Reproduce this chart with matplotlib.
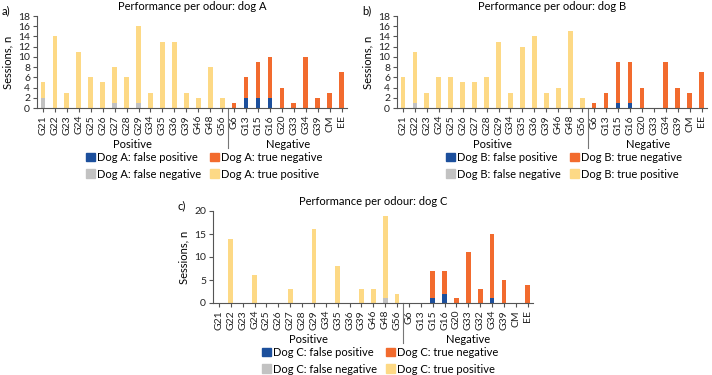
import numpy as np
import matplotlib
matplotlib.use("Agg")
import matplotlib.pyplot as plt
from matplotlib.patches import Patch

plt.rcParams["font.family"] = ["Lato", "DejaVu Sans"]
plt.rcParams["font.size"] = 7.5

W, H = 712, 375
C_FP, C_TN, C_FN, C_TP = "#1c4f9c", "#f26b2e", "#c2c2c2", "#fdd985"
AXC = "#555555"

POS = ["G21", "G22", "G23", "G24", "G25", "G26", "G27", "G28",
       "G29", "G34", "G35", "G36", "G39", "G46", "G48", "G56"]
NEG_AB = ["G6", "G13", "G15", "G16", "G20", "G33", "G34", "G39", "CM", "EE"]
NEG_C = ["G6", "G13", "G15", "G16", "G20", "G33", "G32", "G34", "G39", "CM", "EE"]

# dog A
a_fn = [2, 0, 0, 0, 0, 0, 1, 0, 1, 0, 0, 0, 0, 0, 0, 0]
a_tp = [3, 14, 3, 11, 6, 5, 7, 6, 15, 3, 13, 13, 3, 2, 8, 2]
a_fp = [0, 2, 2, 2, 0, 0, 0, 0, 0, 0]
a_tn = [1, 4, 7, 8, 4, 1, 10, 2, 3, 7]

# dog B
b_fn = [0, 1, 0, 0, 0, 0, 0, 0, 0, 0, 0, 0, 0, 0, 0, 0]
b_tp = [6, 10, 3, 6, 6, 5, 5, 6, 13, 3, 12, 14, 3, 4, 15, 2]
b_fp = [0, 0, 1, 1, 0, 0, 0, 0, 0, 0]
b_tn = [1, 3, 8, 8, 4, 0, 9, 4, 3, 7]

# dog C
c_fn = [0, 0, 0, 0, 0, 0, 0, 0, 0, 0, 0, 0, 0, 0, 1, 0]
c_tp = [0, 14, 0, 6, 0, 0, 3, 0, 16, 0, 8, 0, 3, 3, 18, 2]
c_fp = [0, 0, 1, 2, 0, 0, 0, 1, 0, 0, 0]
c_tn = [0, 0, 6, 5, 1, 11, 3, 14, 5, 0, 4]


def panel(fig, box, dog, letter, neg, fn, tp, fp, tn, ymax, ystep, leg_xy):
    l, r, t, b = box
    ax = fig.add_axes([l / W, 1 - b / H, (r - l) / W, (b - t) / H])
    npos = len(POS)
    labels = POS + neg
    x = np.arange(len(labels))
    bw = 0.4
    xp, xn = x[:npos], x[npos:]
    ax.bar(xp, fn, bw, color=C_FN)
    ax.bar(xp, tp, bw, bottom=fn, color=C_TP)
    ax.bar(xn, fp, bw, color=C_FP)
    ax.bar(xn, tn, bw, bottom=fp, color=C_TN)

    ax.set_xlim(-0.5, len(labels) - 0.55)
    ax.set_ylim(0, ymax)
    ax.set_yticks(np.arange(0, ymax + 1, ystep))
    ax.set_xticks(x)
    ax.set_xticklabels(labels, rotation=90)
    ax.tick_params(axis="both", colors=AXC, labelcolor="#222222", length=3, width=0.8, pad=2,
                   labelsize=7.5)
    for s in ("top", "right"):
        ax.spines[s].set_visible(False)
    for s in ("left", "bottom"):
        ax.spines[s].set_color(AXC)
        ax.spines[s].set_linewidth(0.8)
    ax.set_ylabel("Sessions, n", fontsize=8, labelpad=3)
    ax.set_title(f"Performance per odour: dog {dog}", fontsize=8, pad=4)

    # group separator and labels
    hpx = b - t
    sep = npos - 0.5
    ax.plot([sep, sep], [0, -40 / hpx], transform=ax.get_xaxis_transform(),
            color="#777777", lw=0.8, clip_on=False)
    for txt, xc in (("Positive", xp.mean()), ("Negative", xn.mean())):
        ax.annotate(txt, xy=(xc, 0), xycoords=("data", "axes fraction"),
                    xytext=(0, -26), textcoords="offset points",
                    ha="center", va="center", fontsize=8)

    fig.text((l - 35) / W, 1 - (t - 5) / H, f"{letter})", fontsize=8, va="center")

    handles = [Patch(color=C_FP, label=f"Dog {dog}: false positive"),
               Patch(color=C_FN, label=f"Dog {dog}: false negative"),
               Patch(color=C_TN, label=f"Dog {dog}: true negative"),
               Patch(color=C_TP, label=f"Dog {dog}: true positive")]
    fig.legend(handles=handles, ncol=2, frameon=False, fontsize=8,
               loc="upper left", bbox_to_anchor=(leg_xy[0] / W, 1 - leg_xy[1] / H),
               borderaxespad=0, borderpad=0, handlelength=0.8, handleheight=0.8,
               handletextpad=0.2, columnspacing=0.8, labelspacing=0.5)
    return ax


fig = plt.figure(figsize=(W / 100, H / 100), dpi=100)
panel(fig, (37, 347, 16, 108), "A", "a", NEG_AB, a_fn, a_tp, a_fp, a_tn, 18, 2, (86, 152))
panel(fig, (397, 707, 16, 108), "B", "b", NEG_AB, b_fn, b_tp, b_fp, b_tn, 18, 2, (446, 152))
panel(fig, (213, 533, 211, 303), "C", "c", NEG_C, c_fn, c_tp, c_fp, c_tn, 20, 5, (262, 347))
fig.savefig("out.png", dpi=100)
